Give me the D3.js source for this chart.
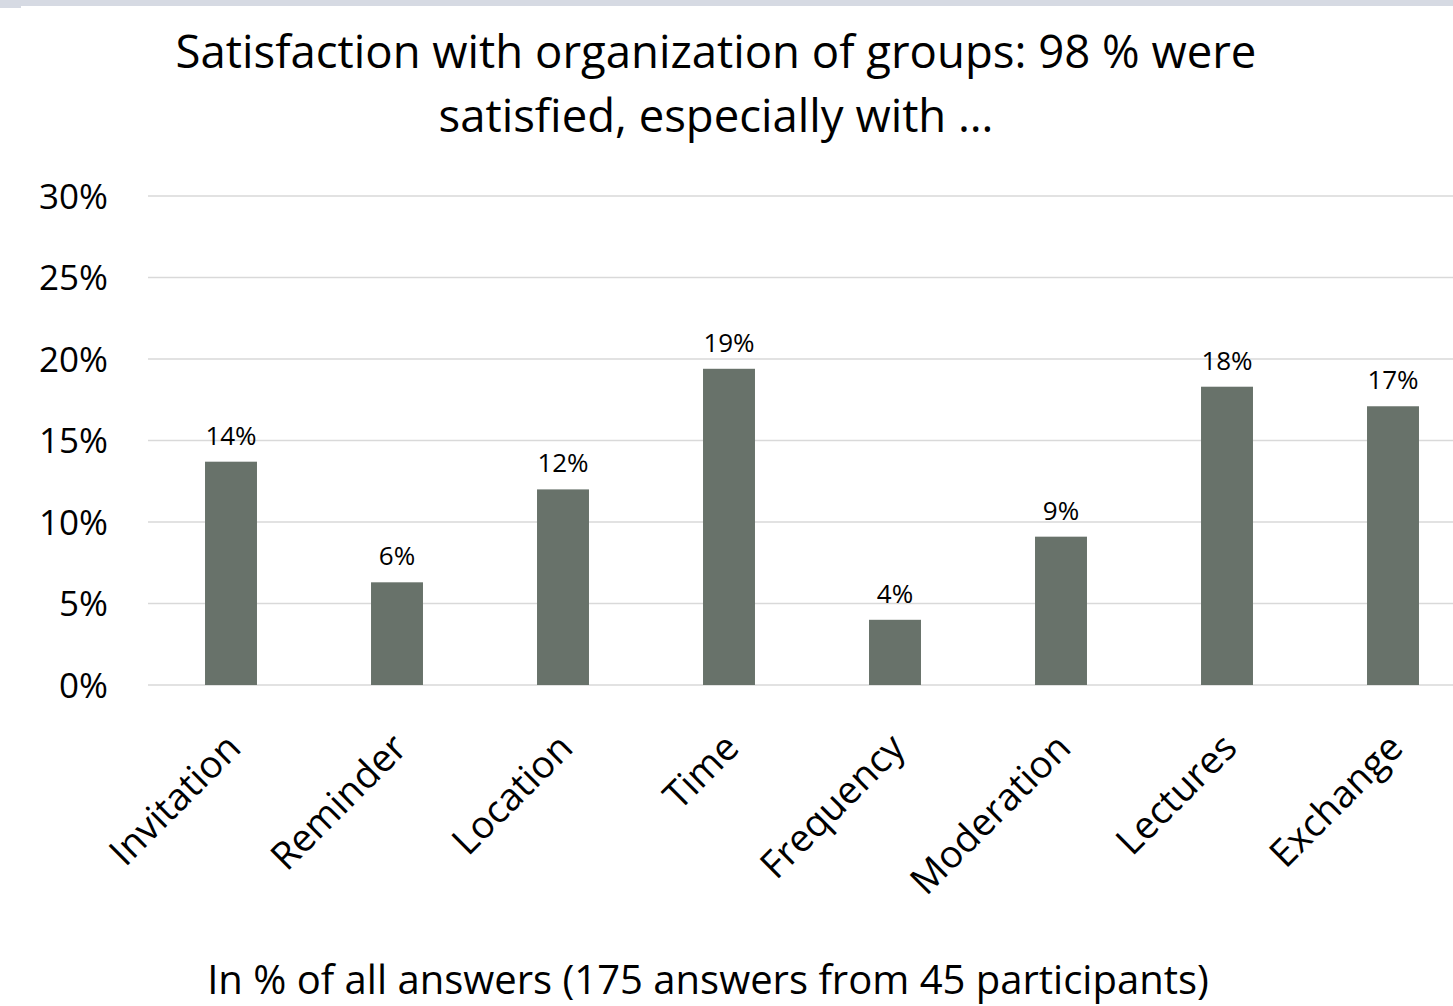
<!DOCTYPE html>
<html><head><meta charset="utf-8">
<script src="https://cdn.jsdelivr.net/npm/d3@7"></script>
<style>
body{margin:0;background:#fff;}
svg{display:block;font-family:"Open Sans","Noto Sans",sans-serif;}
</style></head>
<body><svg id="c" width="1453" height="1006"></svg>
<script>
const categories = ["Invitation","Reminder","Location","Time","Frequency","Moderation","Lectures","Exchange"];
const values = [13.7, 6.3, 12.0, 19.4, 4.0, 9.1, 18.3, 17.1];
const yTicks = [0, 5, 10, 15, 20, 25, 30];
const titleLines = ["Satisfaction with organization of groups: 98 % were", "satisfied, especially with \u2026"];
const axisTitle = "In % of all answers (175 answers from 45 participants)";

const svg = d3.select("#c");
svg.append("rect").attr("x",0).attr("y",0).attr("width",1453).attr("height",6).attr("fill","#d6dae3");
svg.append("rect").attr("x",0).attr("y",0).attr("width",21).attr("height",8).attr("fill","#d6dae3");

const x = d3.scaleBand().domain(categories).range([148, 1476]).paddingInner(0.687).paddingOuter(0.3435);
const y = d3.scaleLinear().domain([0, 30]).range([685, 196]);

const grid = svg.append("g");
grid.selectAll("line").data(yTicks).join("line")
  .attr("x1",148).attr("x2",1453)
  .attr("y1",d=>y(d)).attr("y2",d=>y(d))
  .attr("stroke","#d9d9d9").attr("stroke-width",1.5);

const yAxis = svg.append("g").attr("transform","translate(108,0)")
  .call(d3.axisLeft(y).tickValues(yTicks).tickFormat(d=>d+"%").tickSize(0).tickPadding(0));
yAxis.select(".domain").remove();
yAxis.selectAll("text").attr("font-size",35).attr("fill","#000").attr("font-family","'Open Sans',sans-serif").attr("dy","0.35em");

svg.append("g").selectAll("rect").data(categories).join("rect")
  .attr("x",d=>x(d)).attr("width",x.bandwidth())
  .attr("y",(d,i)=>y(values[i])).attr("height",(d,i)=>y(0)-y(values[i]))
  .attr("fill","#68726a");

svg.append("g").selectAll("text").data(categories).join("text")
  .attr("x",d=>x(d)+x.bandwidth()/2)
  .attr("y",(d,i)=>y(values[i])-17)
  .attr("text-anchor","middle").attr("font-size",26).attr("fill","#000")
  .text((d,i)=>Math.round(values[i])+"%");

const xAxis = svg.append("g").attr("transform","translate(0,685)")
  .call(d3.axisBottom(x).tickSize(0).tickPadding(0));
xAxis.select(".domain").remove();
xAxis.selectAll("text")
  .attr("font-size",38).attr("fill","#000").attr("font-family","'Open Sans',sans-serif")
  .attr("text-anchor","end").attr("dy",null).attr("y",0)
  .attr("transform",d=>"translate(12,65) rotate(-45)");

svg.append("g").selectAll("text").data(titleLines).join("text")
  .attr("x",716).attr("y",(d,i)=>68+i*64)
  .attr("text-anchor","middle").attr("font-size",45.5).attr("fill","#000")
  .text(d=>d);

svg.append("text").attr("x",708).attr("y",994).attr("text-anchor","middle")
  .attr("font-size",40).attr("fill","#000").text(axisTitle);
</script></body></html>
